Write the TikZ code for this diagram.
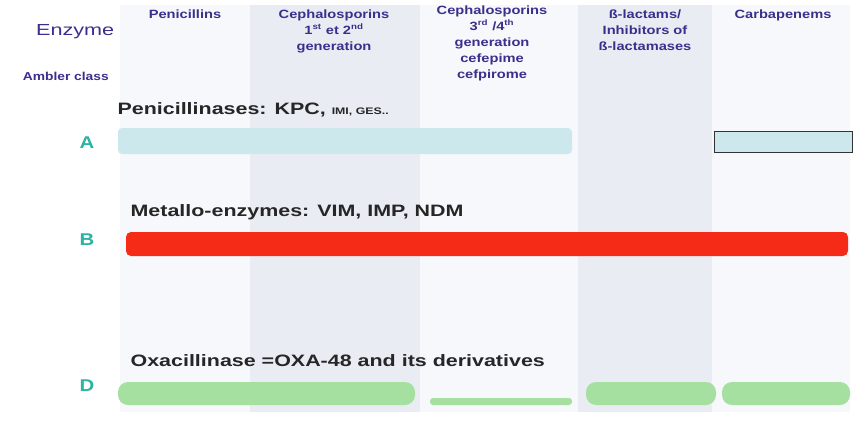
\documentclass[tikz,border=0pt]{standalone}
\usepackage{fontspec}
\setmainfont{Liberation Sans}
\definecolor{hdr}{HTML}{3B2F8C}
\definecolor{teal}{HTML}{2BB3A3}
\definecolor{colA}{HTML}{F6F8FC}
\definecolor{colB}{HTML}{E9EDF3}
\definecolor{barA}{HTML}{CDE8EC}
\definecolor{barB}{HTML}{F52A17}
\definecolor{barD}{HTML}{A6E0A0}
\tikzset{
  hd/.style={font=\bfseries\fontsize{12}{16}\selectfont, text=hdr, align=center, anchor=north, xscale=1.22},
  cls/.style={font=\bfseries\fontsize{17}{17}\selectfont, text=teal, xscale=1.2},
  lab/.style={font=\bfseries\fontsize{16.5}{17}\selectfont, text=black!85, anchor=west, xscale=1.3},
}
\begin{document}
\begin{tikzpicture}[x=1pt,y=-1pt]
\useasboundingbox (0,0) rectangle (859,444);
\fill[white] (0,0) rectangle (859,444);
\fill[colA] (120,5) rectangle (250,412);
\fill[colB] (250,5) rectangle (420,412);
\fill[colA] (420,5) rectangle (578,412);
\fill[colB] (578,5) rectangle (712,412);
\fill[colA] (712,5) rectangle (850,412);
\node[font=\fontsize{16}{16}\selectfont, text=hdr, anchor=east, xscale=1.35] (enz) at (119,32) {Enzyme};
\node[font=\bfseries\fontsize{11.5}{12}\selectfont, text=hdr, anchor=east, xscale=1.2] (amb) at (113,76) {Ambler class};
\node[hd] (h1) at (185,6) {Penicillins};
\node[hd] (h2) at (334,6) {Cephalosporins\\1\textsuperscript{st} et 2\textsuperscript{nd}\\generation};
\node[hd] (h3) at (492,2) {Cephalosporins\\3\textsuperscript{rd} /4\textsuperscript{th}\\generation\\cefepime\\cefpirome};
\node[hd] (h4) at (645,6) {ß-lactams/\\Inhibitors of\\ß-lactamases};
\node[hd] (h5) at (783,6) {Carbapenems};
\node[lab] (la) at (113,110) {Penicillinases: KPC, {\fontsize{9.5}{10}\selectfont IMI, GES..}};
\node[lab] (lb) at (126,212) {Metallo-enzymes: VIM, IMP, NDM};
\node[lab] (ld) at (126,361) {Oxacillinase =OXA-48 and its derivatives};
\node[cls] (ca) at (87,143) {A};
\node[cls] (cb) at (87,240) {B};
\node[cls] (cd) at (87,386) {D};
\fill[barA, rounded corners=4pt] (118,128) rectangle (572,154);
\draw[black!80, fill=barA, line width=1pt] (714,131) rectangle (852,152);
\fill[barB, rounded corners=5pt] (126,232) rectangle (848,256);
\fill[barD, rounded corners=10pt] (118,382) rectangle (415,405);
\fill[barD, rounded corners=3pt] (430,398) rectangle (572,405);
\fill[barD, rounded corners=10pt] (586,382) rectangle (716,405);
\fill[barD, rounded corners=10pt] (722,382) rectangle (850,405);
\end{tikzpicture}
\end{document}
